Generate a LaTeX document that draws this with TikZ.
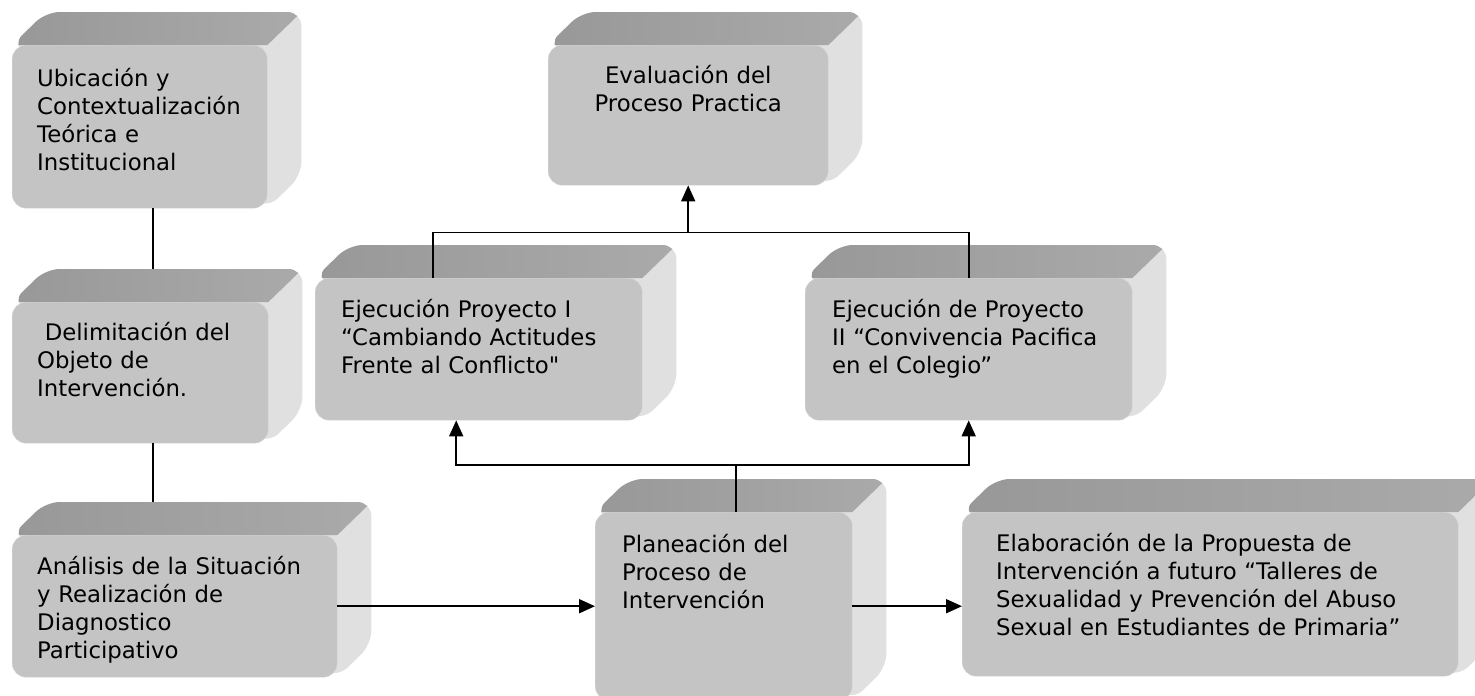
\documentclass[tikz,border=0pt]{standalone}
\usepackage{fontspec}
\newfontfamily\verdana{DejaVu Sans}
\usetikzlibrary{arrows.meta,backgrounds}
\definecolor{frente}{RGB}{196,196,196}
\definecolor{borde}{RGB}{214,214,214}
\definecolor{techo}{RGB}{152,152,152}
\definecolor{techoclaro}{RGB}{170,170,170}
\definecolor{lado}{RGB}{224,224,224}
\tikzset{
    caja/.style = {draw=borde, fill=frente, rounded corners=14pt, anchor=north west, inner sep=0pt},
    rotulo/.style = {anchor=base west, text width=480pt, align=left, inner sep=0pt, font=\verdana\fontsize{22.8}{28}\selectfont},
    linea/.style = {line width=1.8pt},
    flecha/.style = {linea, -{Triangle[length=16pt,width=14pt]}},
}

\begin{document}
\begin{tikzpicture}[x=1pt, y=-1pt]
\useasboundingbox (0,0) rectangle (1475,696);

% caras frontales
\node[caja, minimum width=255, minimum height=163] (ubic) at (12,45) {};
\node[caja, minimum width=256, minimum height=141] (delim) at (12,302) {};
\node[caja, minimum width=325, minimum height=142] (anal) at (12,535) {};
\node[caja, minimum width=280, minimum height=140] (eval) at (548,45) {};
\node[caja, minimum width=327, minimum height=142] (ejeca) at (315,278) {};
\node[caja, minimum width=327, minimum height=142] (ejecb) at (805,278) {};
\node[caja, minimum width=257, minimum height=188] (plan) at (595,512) {};
\node[caja, minimum width=496, minimum height=164] (elab) at (962,512) {};

% bisel de cada caja
\begin{pgfonlayer}{background}
\foreach \n in {ubic,delim,anal,eval,ejeca,ejecb,plan,elab}{
    \coordinate (\n-t) at ([yshift=33pt]\n.north);
    \begin{scope}
    \clip[rounded corners=14pt] (\n.north west) -- ++(34,-33) -- ([shift={(34,-33)}]\n.north east)
        -- ([shift={(34,-33)}]\n.south east) -- (\n.south east) -- cycle;
    \fill[lado] ([shift={(-5,-40)}]\n.north west) rectangle ([shift={(40,5)}]\n.south east);
    \shade[left color=techo, right color=techoclaro] (\n.north west) -- ++(34,-33)
        -- ([shift={(34,-33)}]\n.north east) -- (\n.north east) -- cycle;
    \end{scope}
}
\end{pgfonlayer}

% textos
\node[rotulo] (ubic-txt) at ([shift={(25,41)}]ubic.north west) {Ubicación y\\Contextualización\\Teórica e\\Institucional};
\node[rotulo] (delim-txt) at ([shift={(25,38)}]delim.north west) {\ Delimitación del\\Objeto de\\Intervención.};
\node[rotulo] (anal-txt) at ([shift={(25,39)}]anal.north west) {Análisis de la Situación\\y Realización de\\Diagnostico\\Participativo};
\node[rotulo, anchor=base, align=center, text width=300pt] (eval-txt) at ([shift={(0,38)}]eval.north) {Evaluación del\\Proceso Practica};
\node[rotulo] (ejeca-txt) at ([shift={(26,39)}]ejeca.north west) {Ejecución Proyecto I\\“Cambiando Actitudes\\Frente al Conflicto"};
\node[rotulo] (ejecb-txt) at ([shift={(27,39)}]ejecb.north west) {Ejecución de Proyecto\\II “Convivencia Pacifica\\en el Colegio”};
\node[rotulo] (plan-txt) at ([shift={(27,40)}]plan.north west) {Planeación del\\Proceso de\\Intervención};
\node[rotulo] (elab-txt) at ([shift={(34,39)}]elab.north west) {Elaboración de la Propuesta de\\Intervención a futuro “Talleres de\\Sexualidad y Prevención del Abuso\\Sexual en Estudiantes de Primaria”};

% conectores
\coordinate (c1) at ([xshift=13.5pt]ubic.south);
\draw[linea] (c1) -- (c1 |- delim-t);
\draw[linea] (c1 |- delim.south) -- (c1 |- anal-t);

\coordinate (c2) at ([xshift=-45.5pt]ejeca.north);
\coordinate (arriba) at ([yshift=-47pt]eval.south);
\draw[linea] (c2) |- (arriba) -| (ejecb.north);
\draw[flecha] (arriba) -- (eval.south);

\coordinate (c3) at ([xshift=12.5pt]plan.north);
\coordinate (abajo) at ([yshift=47pt]c3);
\draw[linea] (c3) -- (abajo);
\draw[flecha] (abajo) -| ([xshift=-22.5pt]ejeca.south);
\draw[flecha] (abajo) -| (ejecb.south);

\draw[flecha] (anal.east) -- (plan.west |- anal.east);
\draw[flecha] (plan.east) -- (elab.west |- plan.east);
\end{tikzpicture}
\end{document}
